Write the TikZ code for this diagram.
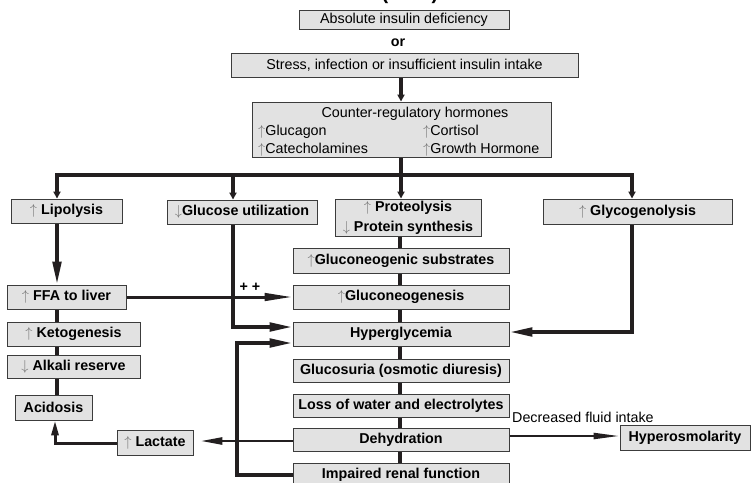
\documentclass[tikz,border=0pt]{standalone}
\usepackage{fontspec}
\setmainfont{Liberation Sans}
\usetikzlibrary{arrows.meta,backgrounds}
\definecolor{boxfill}{RGB}{226,226,226}
\definecolor{boxline}{RGB}{60,60,60}
\definecolor{linecol}{RGB}{35,31,32}
\newcommand{\ua}{{\color{black!55}$\uparrow$}}
\newcommand{\da}{{\color{black!55}$\downarrow$}}
\begin{document}
\begin{tikzpicture}[x=1pt,y=-1pt,
  box/.style={draw=boxline, line width=0.9pt, fill=boxfill, inner sep=0pt, text=black,
    font=\fontsize{14.3}{20}\selectfont\bfseries, align=center},
  rbox/.style={box, font=\fontsize{14.3}{20}\selectfont},
  lbl/.style={inner sep=0pt, text=black, font=\fontsize{14.3}{20}\selectfont},
  blbl/.style={lbl, font=\fontsize{14.3}{20}\selectfont\bfseries},
  conn/.style={draw=linecol, line width=3.6pt},
  sarr/.style={conn, -{Triangle[length=7pt,width=7pt]}},
  arr/.style={conn, -{Triangle[length=23pt,width=8.5pt]}},
  farr/.style={draw=linecol, line width=3pt, -{Triangle[length=28pt,width=7.5pt]}},
  marr/.style={draw=linecol, line width=2.6pt, -{Triangle[length=22pt,width=7pt]}},
  harr/.style={draw=linecol, line width=2.2pt, -{Triangle[length=26pt,width=6pt]}},
  uarr/.style={draw=linecol, line width=3pt, -{Triangle[length=15pt,width=7pt]}},
]
\useasboundingbox (0,0) rectangle (754,482);
\clip (0,0) rectangle (754,482);

% helper coordinates
\coordinate (xL) at (57,0);
\coordinate (xA) at (55,0);
\coordinate (xU) at (233,0);
\coordinate (xM) at (401,0);
\coordinate (xC) at (400,0);
\coordinate (xG) at (632,0);
\coordinate (bus) at (401,175);
\coordinate (yH1) at (0,327);
\coordinate (yH3) at (0,332);
\coordinate (fb) at (237,343);
\coordinate (yD) at (0,441);
\coordinate (yL) at (0,443);
\coordinate (yO) at (0,436);

% clipped title
\node[anchor=base, inner sep=0pt, font=\fontsize{20}{24}\selectfont\bfseries] (title) at (410,-0.5) {(DKA)};

% top
\node[rbox, minimum width=210, minimum height=19] (abs) at (404,19.5) {Absolute insulin deficiency};
\node[blbl] (or) at (398,43) {or};
\node[rbox, minimum width=347, minimum height=24] (stress) at (404.5,65) {Stress, infection or insufficient insulin intake};
\node[rbox, minimum width=299, minimum height=55] (counter) at (401.5,129.5) {};
\node[lbl, anchor=base] (crh) at (415,117) {Counter-regulatory hormones};
\node[lbl, anchor=base west] (glu) at (258,135) {\ua Glucagon};
\node[lbl, anchor=base west] (cat) at (258,153) {\ua Catecholamines};
\node[lbl, anchor=base west] (cor) at (423,135) {\ua Cortisol};
\node[lbl, anchor=base west] (gh) at (423,153) {\ua Growth Hormone};

% second row
\node[box, minimum width=111, minimum height=24] (lipo) at (66.5,211) {\ua\ Lipolysis};
\node[box, minimum width=150, minimum height=24] (gutil) at (242,212) {\da Glucose utilization};
\node[box, minimum width=146, minimum height=37] (prot) at (408,217.5) {\ua\ Proteolysis\\\da\ Protein synthesis};
\node[box, minimum width=189, minimum height=25] (glyco) at (637.5,211.5) {\ua\ Glycogenolysis};

% middle column
\node[box, minimum width=216, minimum height=25] (subs) at (401,260.5) {\ua Gluconeogenic substrates};
\node[box, minimum width=216, minimum height=24] (gneo) at (401,297) {\ua Gluconeogenesis};
\node[box, minimum width=216, minimum height=24] (hyper) at (401,334) {Hyperglycemia};
\node[box, minimum width=216, minimum height=23] (gluco) at (401,371) {Glucosuria (osmotic diuresis)};
\node[box, minimum width=216, minimum height=23] (loss) at (401,405.5) {Loss of water and electrolytes};
\node[box, minimum width=216, minimum height=23] (dehyd) at (401,440) {Dehydration};
\node[box, minimum width=216, minimum height=24] (impaired) at (401,475) {Impaired renal function};

% left column
\node[box, minimum width=119, minimum height=24] (ffa) at (66.5,297) {\ua\ FFA to liver};
\node[box, minimum width=133, minimum height=24] (keto) at (73.5,334) {\ua\ Ketogenesis};
\node[box, minimum width=133, minimum height=23] (alk) at (73.5,366.5) {\da\ Alkali reserve};
\node[box, minimum width=77, minimum height=25] (acid) at (53.5,407.5) {Acidosis};
\node[box, minimum width=76, minimum height=25] (lact) at (155,442.5) {\ua\ Lactate};

% right
\node[box, minimum width=130, minimum height=25] (hosm) at (685,437.5) {Hyperosmolarity};

% labels
\node[blbl] (pp) at (250,287) {+ +};
\node[lbl, anchor=base west] (dfi) at (512,422) {Decreased fluid intake};

\begin{pgfonlayer}{background}
  \draw[sarr] (stress.south -| xM) -- (counter.north -| xM);
  \draw[sarr] (counter.south -| xM) -- (prot.north -| xM);
  \draw[sarr] (bus) -| (lipo.north -| xL);
  \draw[sarr] (bus) -| (glyco.north -| xG);
  \draw[sarr] (bus -| xU) -- (gutil.north -| xU);
  \draw[arr] (lipo.south -| xL) -- (ffa.north -| xL);
  \draw[conn] (ffa.south -| xL) -- (acid.north -| xL);
  \draw[conn] (prot.south -| xC) -- (impaired.north -| xC);
  \draw[farr] (ffa.east) -- (gneo.west);
  \draw[arr] (gutil.south -| xU) |- (hyper.west |- yH1);
  \draw[arr] (glyco.south -| xG) |- (hyper.east |- yH3);
  \draw[arr] (impaired.west) -| (fb) -- (hyper.west |- fb);
  \draw[marr, shorten >=7pt] (dehyd.west |- yD) -- (lact.east |- yD);
  \draw[uarr] (lact.west |- yL) -| (acid.south -| xA);
  \draw[harr] (dehyd.east |- yO) -- (hosm.west |- yO);
\end{pgfonlayer}
\end{tikzpicture}
\end{document}
